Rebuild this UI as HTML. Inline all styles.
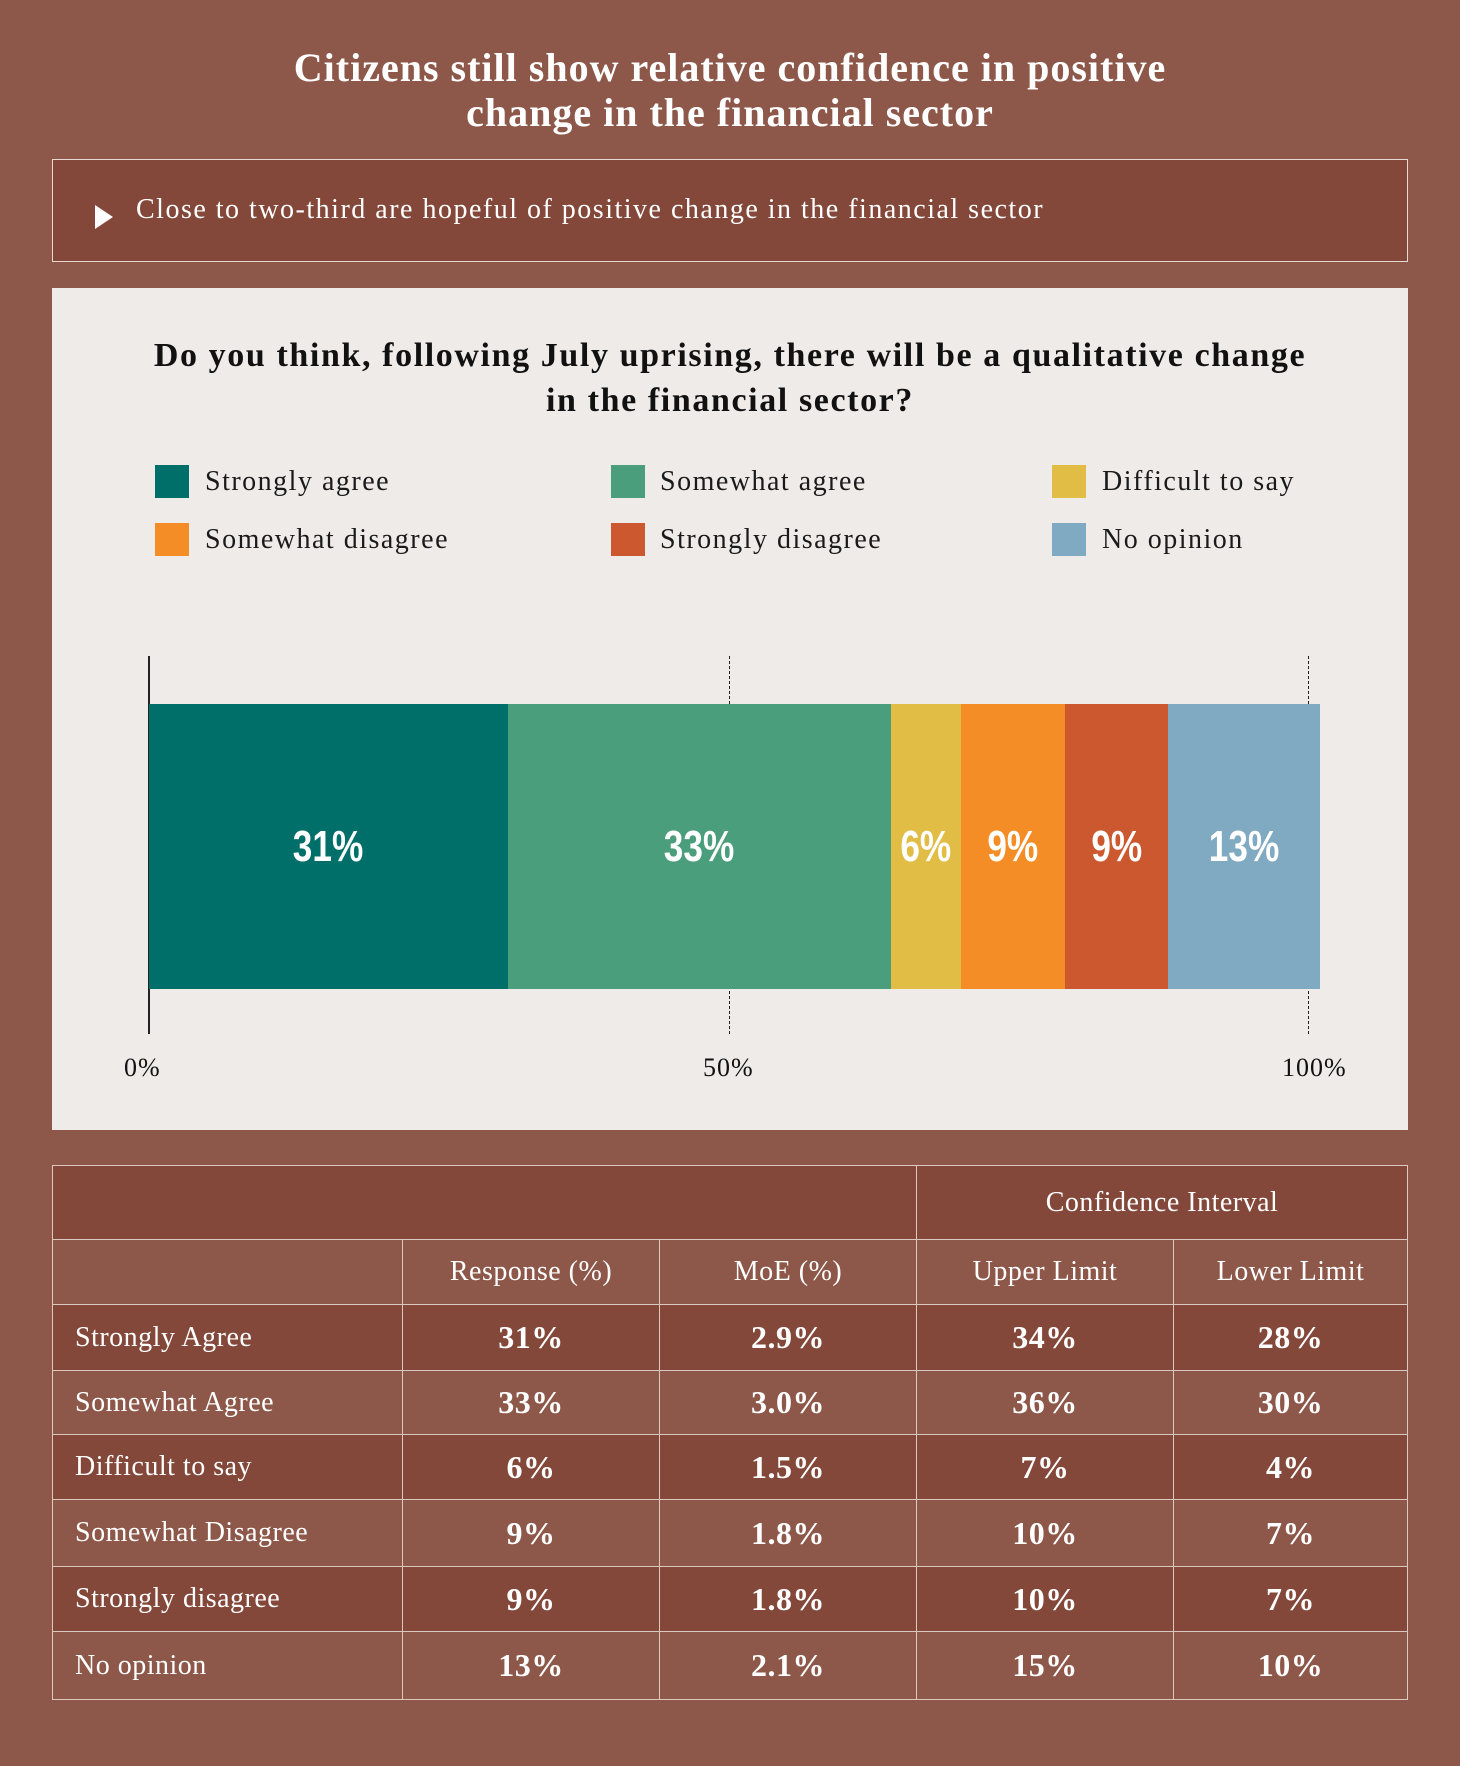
<!DOCTYPE html>
<html><head><meta charset="utf-8"><style>
*{margin:0;padding:0;box-sizing:border-box}
body{width:1460px;height:1766px;background:#8d5849;position:relative;font-family:"Liberation Serif","DejaVu Serif",serif;color:#fff;overflow:hidden}
.abs{position:absolute}
.t{position:absolute;left:0;width:1460px;text-align:center;font-weight:bold;font-size:40px;line-height:45px;letter-spacing:1px}
#sum{left:52px;top:159px;width:1356px;height:103px;background:#83483a;border:1.5px solid #e8d8d0}
#panel{left:52px;top:288px;width:1356px;height:842px;background:#efebe9}
.q{position:absolute;left:0;width:1356px;text-align:center;color:#111;font-weight:bold;font-size:34px;line-height:45px;letter-spacing:1.6px}
.lg{position:absolute;font-size:28px;color:#1a1a1a;line-height:34px;letter-spacing:1.5px}
.sw{position:absolute;width:34px;height:33px}
.seg{position:absolute;top:704px;height:285px;display:flex;align-items:center;justify-content:center;font-family:"Liberation Sans Narrow","Liberation Sans",sans-serif;font-weight:bold;font-size:44px;color:#fff}
.seg span{display:inline-block;transform:scaleX(0.8)}
.tick{position:absolute;font-size:26px;color:#111;letter-spacing:1px}
table{position:absolute;left:52px;top:1165px;width:1356px;border-collapse:collapse}
td{border:1.5px solid #ddc8c0;font-size:28px;text-align:center;padding:0;letter-spacing:0.5px}
td.l{text-align:left;padding-left:22px}
.d{background:#83483a}.li{background:#8d5849}
td.b{font-weight:bold;font-size:32px}
</style></head><body>
<div class="t" style="top:45px">Citizens still show relative confidence in positive</div>
<div class="t" style="top:90px">change in the financial sector</div>
<div id="sum" class="abs">
<div class="abs" style="left:42px;top:45px;width:0;height:0;border-left:18px solid #fff;border-top:12px solid transparent;border-bottom:12px solid transparent"></div>
<div class="abs" style="left:83px;top:34px;font-size:28px;letter-spacing:1.5px">Close to two-third are hopeful of positive change in the financial sector</div>
</div>
<div id="panel" class="abs">
<div class="q" style="top:45px">Do you think, following July uprising, there will be a qualitative change</div>
<div class="q" style="top:90px">in the financial sector?</div>
<div class="sw" style="left:103px;top:177px;background:#006f69"></div><div class="lg" style="left:153px;top:177px">Strongly agree</div>
<div class="sw" style="left:559px;top:177px;background:#4a9e7b"></div><div class="lg" style="left:608px;top:177px">Somewhat agree</div>
<div class="sw" style="left:1000px;top:177px;background:#e1bd45"></div><div class="lg" style="left:1050px;top:177px">Difficult to say</div>
<div class="sw" style="left:103px;top:235px;background:#f48d25"></div><div class="lg" style="left:153px;top:235px">Somewhat disagree</div>
<div class="sw" style="left:559px;top:235px;background:#cb582f"></div><div class="lg" style="left:608px;top:235px">Strongly disagree</div>
<div class="sw" style="left:1000px;top:235px;background:#80aac2"></div><div class="lg" style="left:1050px;top:235px">No opinion</div>
</div>
<div class="abs" style="left:148px;top:656px;width:1.5px;height:378px;background:#222"></div>
<div class="abs" style="left:729px;top:656px;height:378px;border-left:1.5px dashed #222"></div>
<div class="abs" style="left:1308px;top:656px;height:378px;border-left:1.5px dashed #222"></div>
<div class="seg" style="left:149px;width:359px;background:#006f69"><span>31%</span></div>
<div class="seg" style="left:508px;width:383px;background:#4a9e7b"><span>33%</span></div>
<div class="seg" style="left:891px;width:70px;background:#e1bd45"><span>6%</span></div>
<div class="seg" style="left:961px;width:104px;background:#f48d25"><span>9%</span></div>
<div class="seg" style="left:1065px;width:103px;background:#cb582f"><span>9%</span></div>
<div class="seg" style="left:1168px;width:152px;background:#80aac2"><span>13%</span></div>
<div class="tick" style="left:124px;top:1053px">0%</div>
<div class="tick" style="left:703px;top:1053px">50%</div>
<div class="tick" style="left:1282px;top:1053px">100%</div>
<table>
<tr class="d" style="height:74px"><td colspan="3"></td><td colspan="2">Confidence Interval</td></tr>
<tr class="li" style="height:65px"><td style="width:350px"></td><td style="width:257px">Response (%)</td><td style="width:257px">MoE (%)</td><td style="width:257px">Upper Limit</td><td>Lower Limit</td></tr>
<tr class="d" style="height:66px"><td class="l">Strongly Agree</td><td class="b">31%</td><td class="b">2.9%</td><td class="b">34%</td><td class="b">28%</td></tr>
<tr class="li" style="height:64px"><td class="l">Somewhat Agree</td><td class="b">33%</td><td class="b">3.0%</td><td class="b">36%</td><td class="b">30%</td></tr>
<tr class="d" style="height:65px"><td class="l">Difficult to say</td><td class="b">6%</td><td class="b">1.5%</td><td class="b">7%</td><td class="b">4%</td></tr>
<tr class="li" style="height:67px"><td class="l">Somewhat Disagree</td><td class="b">9%</td><td class="b">1.8%</td><td class="b">10%</td><td class="b">7%</td></tr>
<tr class="d" style="height:65px"><td class="l">Strongly disagree</td><td class="b">9%</td><td class="b">1.8%</td><td class="b">10%</td><td class="b">7%</td></tr>
<tr class="li" style="height:68px"><td class="l">No opinion</td><td class="b">13%</td><td class="b">2.1%</td><td class="b">15%</td><td class="b">10%</td></tr>
</table>
</body></html>
